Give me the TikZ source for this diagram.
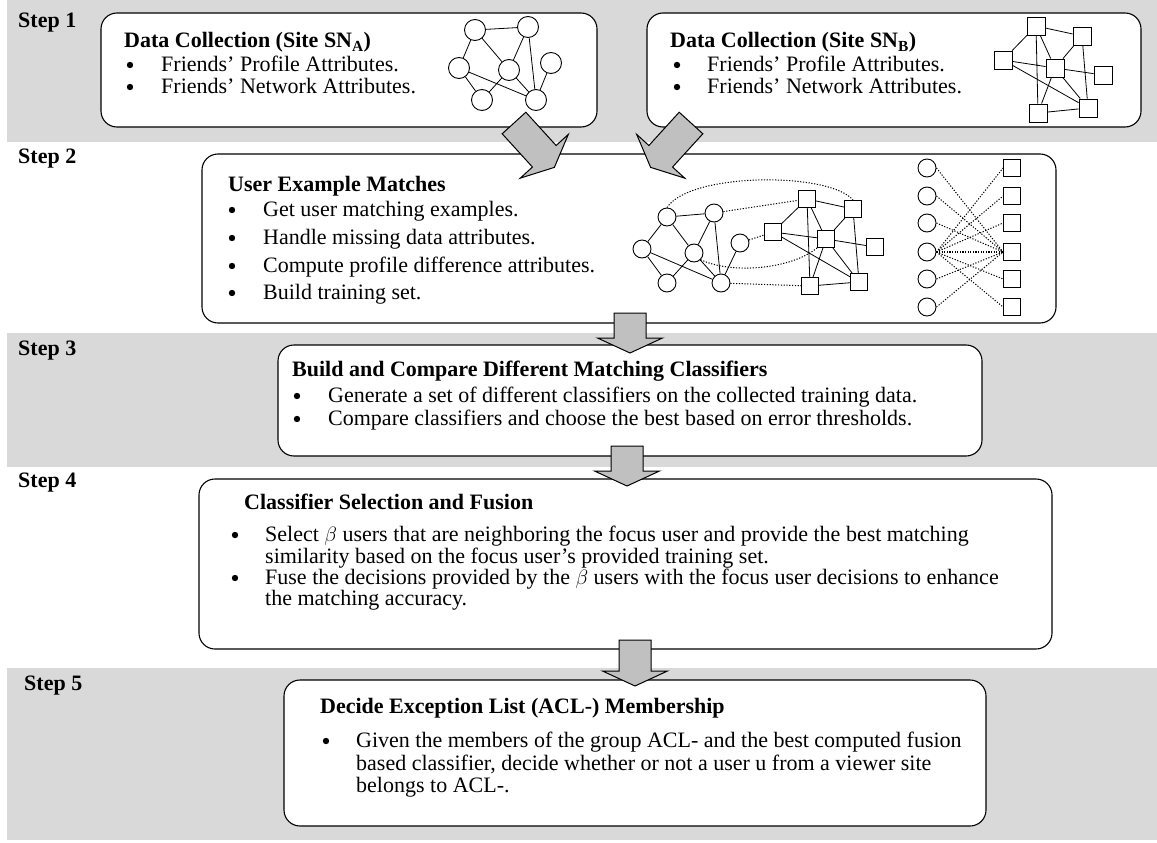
\documentclass[tikz,border=0pt]{standalone}
\usepackage{fontspec}
\setmainfont{Liberation Serif}
\definecolor{bandgray}{RGB}{217,217,217}
\definecolor{arrowgray}{RGB}{192,192,192}
\begin{document}
\begin{tikzpicture}[x=1pt,y=-1pt,
  band/.style={fill=bandgray, draw=none},
  stage/.style={draw=black, line width=1.1pt, rounded corners=16pt, fill=white, inner sep=0pt},
  steplabel/.style={font=\fontsize{22}{24}\selectfont\bfseries, anchor=base west, inner sep=0pt},
  ttl/.style={font=\fontsize{22}{24}\selectfont\bfseries, anchor=base west, inner sep=0pt},
  txt/.style={font=\fontsize{22}{24}\selectfont, anchor=base west, inner sep=0pt},
  bul/.style={circle, fill=black, inner sep=0pt, minimum size=6.4pt},
  cnode/.style={circle, draw, fill=white, line width=0.9pt, inner sep=0pt, minimum size=21pt},
  cnodes/.style={circle, draw, fill=white, line width=0.9pt, inner sep=0pt, minimum size=18pt},
  snode/.style={rectangle, draw, fill=white, line width=0.9pt, inner sep=0pt, minimum size=18pt},
  snodes/.style={rectangle, draw, fill=white, line width=0.9pt, inner sep=0pt, minimum size=17pt},
  edge/.style={line width=0.8pt},
  dots/.style={line width=1pt, dash pattern=on 1.2pt off 1.6pt},
  thickdots/.style={line width=2.2pt, dash pattern=on 1.2pt off 1.4pt},
  arrowstyle/.style={draw=black, line width=1pt, fill=arrowgray, line join=miter},
  pics/blockarrow/.style={code={
    \draw[arrowstyle] (0,-16) -- (#1,-16) -- (#1,-32.5) -- ({#1+15},0)
      -- (#1,32.5) -- (#1,16) -- (0,16) -- cycle;
  }}
]
\useasboundingbox (0,0) rectangle (1157,843);
\fill[white] (0,0) rectangle (1157,843);

% grey bands behind steps 1, 3 and 5
\fill[band] (7,0) rectangle (1157,142);
\fill[band] (7,333) rectangle (1157,467);
\fill[band] (7,668) rectangle (1157,840);

% step labels
\node[steplabel] (l1) at (18,28) {Step 1};
\node[steplabel] (l2) at (18,163) {Step 2};
\node[steplabel] (l3) at (18,355) {Step 3};
\node[steplabel] (l4) at (18,487) {Step 4};
\node[steplabel] (l5) at (24,690) {Step 5};

% stage boxes
\node[stage, minimum width=496pt, minimum height=114pt] (boxA) at (349,70) {};
\node[stage, minimum width=494pt, minimum height=114pt] (boxB) at (894,70) {};
\node[stage, minimum width=854pt, minimum height=169pt] (box2) at (629,238.5) {};
\node[stage, minimum width=704pt, minimum height=111pt] (box3) at (630,400.5) {};
\node[stage, minimum width=853pt, minimum height=170pt] (box4) at (625.5,564) {};
\node[stage, minimum width=702pt, minimum height=146pt] (box5) at (635,753) {};

% ---- Step 1, site A
\node[ttl] (tA) at (124,48) {Data Collection (Site SN\textsubscript{A})};
\node[bul] (bA1) at (130,65) {};
\node[txt] (xA1) at (161,71) {Friends’ Profile Attributes.};
\node[bul] (bA2) at (130,87) {};
\node[txt] (xA2) at (161,93) {Friends’ Network Attributes.};

\node[cnode] (a1) at (475,30) {};
\node[cnode] (a2) at (528,27) {};
\node[cnode] (a3) at (459,68) {};
\node[cnode] (a4) at (509,70) {};
\node[cnode] (a5) at (551,63) {};
\node[cnode] (a6) at (482,100) {};
\node[cnode] (a7) at (536,100) {};
\draw[edge] (a1) -- (a2) (a1) -- (a3) (a1) -- (a4) (a2) -- (a4) (a2) -- (a7)
  (a3) -- (a6) (a3) -- (a7) (a4) -- (a6) (a4) -- (a7) (a5) -- (a7);

% ---- Step 1, site B
\node[ttl] (tB) at (670,48) {Data Collection (Site SN\textsubscript{B})};
\node[bul] (bB1) at (677,65) {};
\node[txt] (xB1) at (707,71) {Friends’ Profile Attributes.};
\node[bul] (bB2) at (677,87) {};
\node[txt] (xB2) at (707,93) {Friends’ Network Attributes.};

\node[snode] (b1) at (1036,26) {};
\node[snode] (b2) at (1082,36) {};
\node[snode] (b3) at (1003,60) {};
\node[snode] (b4) at (1055,68) {};
\node[snode] (b5) at (1103,75) {};
\node[snode] (b6) at (1038,113) {};
\node[snode] (b7) at (1088,108) {};
\draw[edge] (b1) -- (b2) (b1) -- (b3) (b1) -- (b4) (b1) -- (b6) (b2) -- (b4) (b2) -- (b7)
  (b3) -- (b4) (b3) -- (b7) (b4) -- (b5) (b4) -- (b6) (b4) -- (b7) (b6) -- (b7);

% ---- Step 2
\node[ttl] (t2) at (228,191) {User Example Matches};
\node[bul] (b21) at (232,210) {};
\node[txt] (x21) at (263,216) {Get user matching examples.};
\node[bul] (b22) at (232,238) {};
\node[txt] (x22) at (263,244) {Handle missing data attributes.};
\node[bul] (b23) at (232,266) {};
\node[txt] (x23) at (263,272) {Compute profile difference attributes.};
\node[bul] (b24) at (232,293) {};
\node[txt] (x24) at (263,299) {Build training set.};

\node[cnodes] (g1) at (667,217) {};
\node[cnodes] (g2) at (714,213) {};
\node[cnodes] (g3) at (642,249) {};
\node[cnodes] (g4) at (694,253) {};
\node[cnodes] (g5) at (740,243) {};
\node[cnodes] (g6) at (667,283) {};
\node[cnodes] (g7) at (721,283) {};
\draw[edge] (g1) -- (g2) (g1) -- (g3) (g1) -- (g4) (g2) -- (g4) (g2) -- (g7)
  (g3) -- (g6) (g3) -- (g7) (g4) -- (g6) (g4) -- (g7) (g5) -- (g7);

\node[snodes] (h1) at (807,199) {};
\node[snodes] (h2) at (853,209) {};
\node[snodes] (h3) at (773,232) {};
\node[snodes] (h4) at (826,239) {};
\node[snodes] (h5) at (875,247) {};
\node[snodes] (h6) at (810,286) {};
\node[snodes] (h7) at (859,282) {};
\draw[edge] (h1) -- (h2) (h1) -- (h3) (h1) -- (h4) (h1) -- (h6) (h2) -- (h4) (h2) -- (h7)
  (h3) -- (h4) (h3) -- (h7) (h4) -- (h5) (h4) -- (h6) (h4) -- (h7) (h6) -- (h7);

% correspondences between the two networks
\draw[dots] (g1.north) .. controls (690,172) and (830,172) .. (h2.north);
\draw[dots] (g2) -- (h1);
\draw[dots] (g5) -- (h3);
\draw[dots] (g7) -- (h6);
\draw[dots] (g4.south east) .. controls (730,274) and (790,270) .. (h4.south west);

% bipartite matching
\foreach \i/\y in {1/168,2/196,3/223,4/252,5/279,6/307}{
  \node[cnodes] (u\i) at (927,\y) {};
  \node[snodes] (v\i) at (1012,\y) {};
}
\foreach \i in {1,2,3,5,6}{
  \draw[dots] (u\i.east) -- (v4.west);
  \draw[dots] (u4.east) -- (v\i.west);
}
\draw[thickdots] (u4.east) -- (v4.west);

% ---- Step 3
\node[ttl] (t3) at (292,376) {Build and Compare Different Matching Classifiers};
\node[bul] (b31) at (297,396) {};
\node[txt] (x31) at (328,402) {Generate a set of different classifiers on the collected training data.};
\node[bul] (b32) at (297,419) {};
\node[txt] (x32) at (328,425) {Compare classifiers and choose the best based on error thresholds.};

% ---- Step 4
\node[ttl] (t4) at (244,509) {Classifier Selection and Fusion};
\node[bul] (b41) at (235,535) {};
\node[txt] (x41) at (265,541) {Select $\beta$ users that are neighboring the focus user and provide the best matching};
\node[txt] (x42) at (265,563) {similarity based on the focus user’s provided training set.};
\node[bul] (b43) at (235,578) {};
\node[txt] (x43) at (265,584) {Fuse the decisions provided by the $\beta$ users with the focus user decisions to enhance};
\node[txt] (x44) at (265,605) {the matching accuracy.};

% ---- Step 5
\node[ttl] (t5) at (320,713) {Decide Exception List (ACL-) Membership};
\node[bul] (b51) at (326,741) {};
\node[txt] (x51) at (356,747) {Given the members of the group ACL- and the best computed fusion};
\node[txt] (x52) at (356,770) {based classifier, decide whether or not a user u from a viewer site};
\node[txt] (x53) at (356,792) {belongs to ACL-.};

% flow arrows between stages
\pic[rotate=-47.7] at (514,123) {blockarrow=45};
\pic[rotate=-132.3] at (691,123) {blockarrow=45};
\pic[rotate=-90] at (630,313) {blockarrow=25};
\pic[rotate=-90] at (627,446) {blockarrow=25};
\pic[rotate=-90] at (635,640) {blockarrow=31};
\end{tikzpicture}
\end{document}
